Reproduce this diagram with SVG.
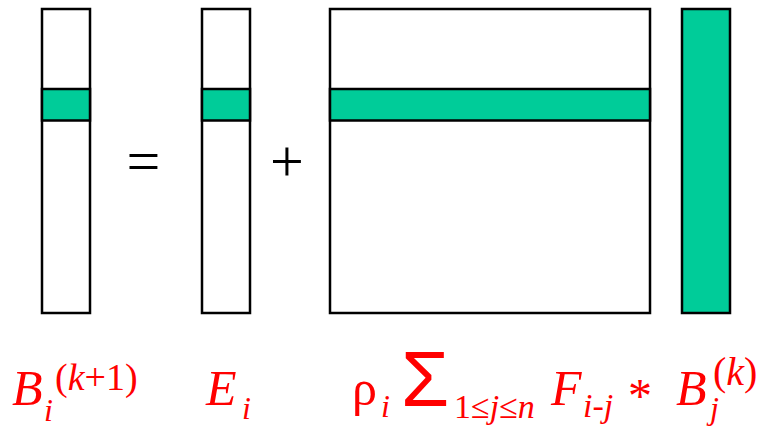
<svg xmlns="http://www.w3.org/2000/svg" width="760" height="429" viewBox="0 0 760 429">
<style>
.box{fill:#fff;stroke:#000;stroke-width:2.5}
.band{fill:#00CC99;stroke:#000;stroke-width:2.5}
</style>
<rect width="760" height="429" fill="#fff"/>
<g id="B_next">
<rect class="box" x="42" y="9" width="48" height="304"/>
<rect class="band" x="42" y="89" width="48" height="31.5"/>
</g>
<g id="eq"><text x="143.5" y="181" text-anchor="middle" font-family="Liberation Serif" font-size="60" fill="#000">=</text></g>
<g id="E">
<rect class="box" x="202" y="9" width="48" height="304"/>
<rect class="band" x="202" y="89" width="48" height="31.5"/>
</g>
<g id="plus"><text x="287" y="181" text-anchor="middle" font-family="Liberation Serif" font-size="60" fill="#000">+</text></g>
<g id="F">
<rect class="box" x="330" y="9" width="320" height="304"/>
<rect class="band" x="330" y="89" width="320" height="31.5"/>
</g>
<g id="B_k">
<rect class="band" x="682" y="9" width="48" height="304"/>
</g>
<g id="labels" fill="#FF0000">
<text x="12" y="405" font-family="Liberation Serif" font-style="italic" font-size="50">B</text>
<text x="44" y="421" font-family="Liberation Serif" font-style="italic" font-size="32">i</text>
<text x="55" y="390" font-family="Liberation Serif" font-size="38">(<tspan font-style="italic">k</tspan>+1)</text>
<text x="206" y="405" font-family="Liberation Serif" font-style="italic" font-size="50">E</text>
<text x="242" y="419" font-family="Liberation Serif" font-style="italic" font-size="32">i</text>
<text x="352" y="405" font-family="Liberation Serif" font-size="50">ρ</text>
<text x="381" y="417" font-family="Liberation Serif" font-style="italic" font-size="32">i</text>
<text x="401" y="406" font-family="Liberation Sans" font-size="78">Σ</text>
<text x="454" y="418" font-family="Liberation Serif" font-size="34">1≤<tspan font-style="italic">j</tspan>≤<tspan font-style="italic">n</tspan></text>
<text x="551" y="405" font-family="Liberation Serif" font-style="italic" font-size="50">F</text>
<text x="583" y="417" font-family="Liberation Serif" font-style="italic" font-size="34">i-j</text>
<text x="628" y="412" font-family="Liberation Serif" font-size="48">*</text>
<text x="676" y="405" font-family="Liberation Serif" font-style="italic" font-size="50">B</text>
<text x="710" y="419" font-family="Liberation Serif" font-style="italic" font-size="32">j</text>
<text x="713" y="385" font-family="Liberation Serif" font-size="40">(<tspan font-style="italic">k</tspan>)</text>
</g>
</svg>
